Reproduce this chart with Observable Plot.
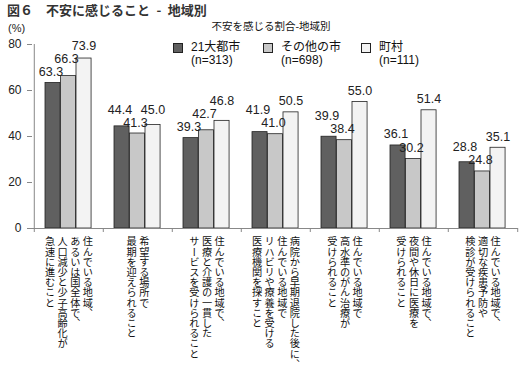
<!DOCTYPE html>
<html><head><meta charset="utf-8">
<script src="https://cdn.jsdelivr.net/npm/d3@7"></script>
<script src="https://cdn.jsdelivr.net/npm/@observablehq/plot@0.6"></script>
<style>
body{margin:0;background:#fff;}
#wrap{position:relative;width:527px;height:371px;overflow:hidden;background:#fff}
#chart{position:absolute;left:0;top:0}
.title{position:absolute;left:7px;top:0px;font:bold 13px "Noto Sans CJK JP",sans-serif;color:#333;white-space:pre}
.sub{position:absolute;left:0;width:542px;top:18px;text-align:center;font:10.5px "Noto Sans CJK JP",sans-serif;color:#111}
.unit{position:absolute;left:8px;top:22px;font:11px "Liberation Sans",Arial,sans-serif;color:#222}
.legend{position:absolute;top:42px;left:0;font:12px "Liberation Sans","Noto Sans CJK JP",sans-serif;color:#111}
.item{position:absolute;white-space:nowrap}
.sw{position:absolute;left:0;top:1px;width:10px;height:10px;border:1px solid #222;box-sizing:border-box}
.lt{position:absolute;left:18px;top:-1px;line-height:12.5px}
</style></head>
<body><div id="wrap">
<div class="title">図６　不安に感じること&ensp;-&ensp;地域別</div>
<div class="sub">不安を感じる割合-地域別</div>
<div class="unit">(%)</div>
<div class="legend" id="legend"></div>
<div id="chart"></div>
</div>
<script>
const categories = [
  ["住んでいる地域、", "あるいは国全体で、", "人口減少と少子高齢化が", "急速に進むこと"],
  ["希望する場所で", "最期を迎えられること"],
  ["住んでいる地域で、", "医療と介護の一貫した", "サービスを受けられること"],
  ["病院から早期退院した後に、", "住んでいる地域で", "リハビリや療養を受ける", "医療機関を探すこと"],
  ["住んでいる地域で", "高水準のがん治療が", "受けられること"],
  ["住んでいる地域で、", "夜間や休日に医療を", "受けられること"],
  ["住んでいる地域で、", "適切な疾患予防や", "検診が受けられること"]
];
const seriesNames = ["21大都市", "その他の市", "町村"];
const seriesN = ["(n=313)", "(n=698)", "(n=111)"];
const bigCities = [63.3, 44.4, 39.3, 41.9, 39.9, 36.1, 28.8];
const otherCities = [66.3, 41.3, 42.7, 41.0, 38.4, 30.2, 24.8];
const towns = [73.9, 45.0, 46.8, 50.5, 55.0, 51.4, 35.1];
const yTicks = [0, 20, 40, 60, 80];

const seriesValues = [bigCities, otherCities, towns];
const colors = ["#606060", "#c8c8c8", "#f3f3f3"];
const labelDx = [-2, -2, 0];
const catKeys = categories.map(c => c.join(""));

const W = 527, H = 371, mL = 32, mR = 9, mT = 44, mB = 143;
const bw = (W - mL - mR) / catKeys.length;
const barOff = 11, barW = 15.5, colGap = 12.6;
const yMax = 80, pxPerUnit = (H - mT - mB) / yMax;
const labelGap = 7, labelH = 12;

const rows = [];
seriesValues.forEach((vals, si) => vals.forEach((v, ci) => rows.push({cat: catKeys[ci], ci, series: si, value: v})));

// greedy placement of value labels: lowest first, push up above an adjacent label it would collide with
catKeys.forEach((k, ci) => {
  const grp = rows.filter(r => r.ci === ci).sort((a, b) => a.value - b.value);
  const placed = [];
  grp.forEach(r => {
    let bottom = r.value * pxPerUnit + labelGap;
    let moved = true;
    while (moved) {
      moved = false;
      for (const p of placed) {
        if (Math.abs(p.series - r.series) === 1 && bottom < p.lb + labelH && bottom + labelH > p.lb) {
          bottom = p.lb + labelH + 1; moved = true;
        }
      }
    }
    r.lb = bottom;
    r.labelY = bottom / pxPerUnit;
    placed.push(r);
  });
});

const labelRows = [];
categories.forEach((cols, ci) => {
  const n = cols.length;
  cols.forEach((t, i) => labelRows.push({cat: catKeys[ci], text: t, off: ((n - 1) / 2 - i) * colGap}));
});
const offsets = [...new Set(labelRows.map(d => d.off))];

const marks = [];
seriesValues.forEach((vals, si) => {
  const data = rows.filter(r => r.series === si);
  marks.push(Plot.barY(data, {
    x: "cat", y: "value", fill: colors[si], stroke: "#222", strokeWidth: 0.8,
    insetLeft: barOff + si * barW, insetRight: bw - barOff - (si + 1) * barW
  }));
});
seriesValues.forEach((vals, si) => {
  const data = rows.filter(r => r.series === si);
  marks.push(Plot.text(data, {
    x: "cat", y: "labelY", text: d => d.value.toFixed(1),
    dx: -bw / 2 + barOff + (si + 0.5) * barW + labelDx[si], lineAnchor: "bottom",
    fontSize: 12.5, fill: "#222", fontFamily: "Liberation Sans, Arial, sans-serif"
  }));
});
offsets.forEach(off => {
  marks.push(Plot.text(labelRows.filter(d => d.off === off), {
    x: "cat", y: () => 0, text: "text", dx: off, dy: 8,
    textAnchor: "start", lineAnchor: "bottom", fontSize: 10.2, fill: "#111",
    fontFamily: "Noto Sans CJK JP", ariaDescription: "catlabel"
  }));
});
marks.push(Plot.ruleY([0], {stroke: "#888"}));
marks.push(Plot.ruleX([catKeys[0]], {x: d => d, dx: -bw / 2, y1: 0, y2: yMax, stroke: "#888"}));
marks.push(Plot.ruleX(catKeys, {x: d => d, dx: -bw / 2, y1: 0, y2: 0, insetBottom: -4, stroke: "#888"}));
marks.push(Plot.ruleX([catKeys[catKeys.length - 1]], {x: d => d, dx: bw / 2, y1: 0, y2: 0, insetBottom: -4, stroke: "#888"}));
marks.push(Plot.axisY({ticks: yTicks, tickSize: 5, tickPadding: 6, label: null, fontSize: 12, stroke: "#888", color: "#222"}));
marks.push(Plot.tickY(yTicks, {y: d => d, x: catKeys[0], dx: -bw / 2 + 1.5, stroke: "#888", ariaDescription: "ytickright"}));

const svg = Plot.plot({
  width: W, height: H,
  marginLeft: mL, marginRight: mR, marginTop: mT, marginBottom: mB,
  style: {fontFamily: "Liberation Sans, Arial, sans-serif", fontSize: "12px", background: "transparent", color: "#222"},
  x: {domain: catKeys, padding: 0, axis: null},
  y: {domain: [0, yMax], axis: null},
  marks
});
svg.querySelectorAll('[aria-description="catlabel"]').forEach(g => {
  g.style.writingMode = "vertical-rl";
  g.querySelectorAll("text").forEach(t => { t.style.writingMode = "vertical-rl"; });
});
svg.querySelectorAll('[aria-description="ytickright"] line').forEach(l => {
  const x1 = +l.getAttribute("x1");
  l.setAttribute("x2", x1 + 3);
});
document.getElementById("chart").appendChild(svg);

const legendX = [173, 263, 361];
const leg = document.getElementById("legend");
seriesNames.forEach((name, i) => {
  const it = document.createElement("div");
  it.className = "item";
  it.style.left = legendX[i] + "px";
  it.innerHTML = `<div class="sw" style="background:${colors[i]}"></div><div class="lt">${name}<br>${seriesN[i]}</div>`;
  leg.appendChild(it);
});
</script>
</body></html>
